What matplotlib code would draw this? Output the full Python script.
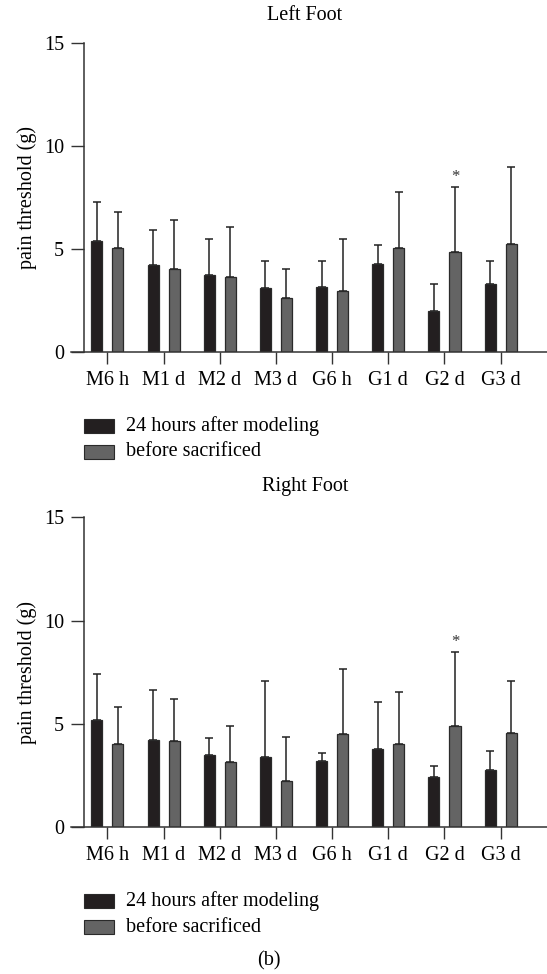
import matplotlib
matplotlib.use("Agg")
import matplotlib.pyplot as plt
import numpy as np

plt.rcParams['font.family'] = ['Liberation Serif', 'DejaVu Serif']

categories = ["M6 h", "M1 d", "M2 d", "M3 d", "G6 h", "G1 d", "G2 d", "G3 d"]
series_names = ["24 hours after modeling", "before sacrificed"]

left_24h = [5.42, 4.22, 3.77, 3.12, 3.19, 4.27, 2.02, 3.30]
left_24h_err = [1.89, 1.72, 1.72, 1.31, 1.24, 0.94, 1.30, 1.13]
left_before = [5.05, 4.03, 3.64, 2.64, 2.98, 5.05, 4.88, 5.24]
left_before_err = [1.76, 2.39, 2.46, 1.39, 2.51, 2.73, 3.16, 3.77]

right_24h = [5.18, 4.21, 3.50, 3.41, 3.20, 3.78, 2.41, 2.76]
right_24h_err = [2.25, 2.44, 0.81, 3.64, 0.40, 2.29, 0.56, 0.94]
right_before = [4.02, 4.16, 3.16, 2.23, 4.49, 4.02, 4.89, 4.57]
right_before_err = [1.81, 2.02, 1.75, 2.14, 3.18, 2.53, 3.60, 2.48]

star_index = 6  # G2 d, "before sacrificed"

W, H = 547, 974
fig = plt.figure(figsize=(W / 100, H / 100), dpi=100)

c_black = "#231f20"
c_grey = "#646464"
edge = "#2a2a2a"
FS = 14.5


def panel(ax_rect, title, title_y, a, a_err, b, b_err, leg_y):
    ax = fig.add_axes(ax_rect)
    x = np.arange(len(categories))
    off = 0.187
    w = 0.196
    ax.bar(x - off, a, w, color=c_black, edgecolor=edge, linewidth=0.9, zorder=2)
    ax.bar(x + off, b, w, color=c_grey, edgecolor=edge, linewidth=0.9, zorder=2)
    ax.errorbar(x - off, a, yerr=[np.zeros(len(a)), a_err], fmt='none',
                ecolor='#222222', elinewidth=1.1, capsize=2.6, capthick=1.1, zorder=1)
    ax.errorbar(x + off, b, yerr=[np.zeros(len(b)), b_err], fmt='none',
                ecolor='#222222', elinewidth=1.1, capsize=2.6, capthick=1.1, zorder=1)
    top = b[star_index] + b_err[star_index]
    ax.annotate("*", (x[star_index] + off, top), xytext=(0, 1), textcoords='offset points',
                ha='center', va='bottom', fontsize=12, color='#333333')
    ax.set_xlim(-0.415, 7.824)
    ax.set_ylim(0, 15)
    ax.set_yticks([0, 5, 10, 15])
    ax.set_xticks(x)
    ax.set_xticklabels(categories, fontsize=FS)
    ax.tick_params(axis='y', labelsize=FS, length=9.4, width=1.0, pad=5, color='#333333')
    ax.tick_params(axis='x', labelsize=FS, length=8.5, width=1.0, pad=5, color='#333333')
    for s in ['top', 'right']:
        ax.spines[s].set_visible(False)
    for s in ['left', 'bottom']:
        ax.spines[s].set_linewidth(1.1)
        ax.spines[s].set_color('#333333')
    ax.spines['bottom'].set_bounds(-0.415 - 13 / 56.2, 7.824)
    ax.spines['bottom'].set_clip_on(False)
    ax.set_ylabel("pain threshold (g)", fontsize=FS, labelpad=5)
    fig.text(305 / W, 1 - title_y / H, title, ha='center', va='center', fontsize=FS)
    # legend
    for i, (name, col) in enumerate(zip(series_names, [c_black, c_grey])):
        yc = leg_y + i * 26
        fig.patches.append(plt.Rectangle((83.5 / W, 1 - (yc + 7) / H), 30 / W, 14 / H,
                                         transform=fig.transFigure, facecolor=col,
                                         edgecolor=edge, linewidth=0.8))
        fig.text(126 / W, 1 - yc / H, name, ha='left', va='center', fontsize=FS)
    return ax


panel([84 / W, 1 - 352.3 / H, 1 - 84 / W, (352.3 - 43.3) / H], "Left Foot", 16,
      left_24h, left_24h_err, left_before, left_before_err, 426)
panel([84 / W, 1 - 827 / H, 1 - 84 / W, (827 - 517.3) / H], "Right Foot", 486,
      right_24h, right_24h_err, right_before, right_before_err, 901)

fig.text(269 / W, 1 - 961 / H, "(b)", ha='center', va='center', fontsize=FS)

fig.savefig("out.png", dpi=100)
